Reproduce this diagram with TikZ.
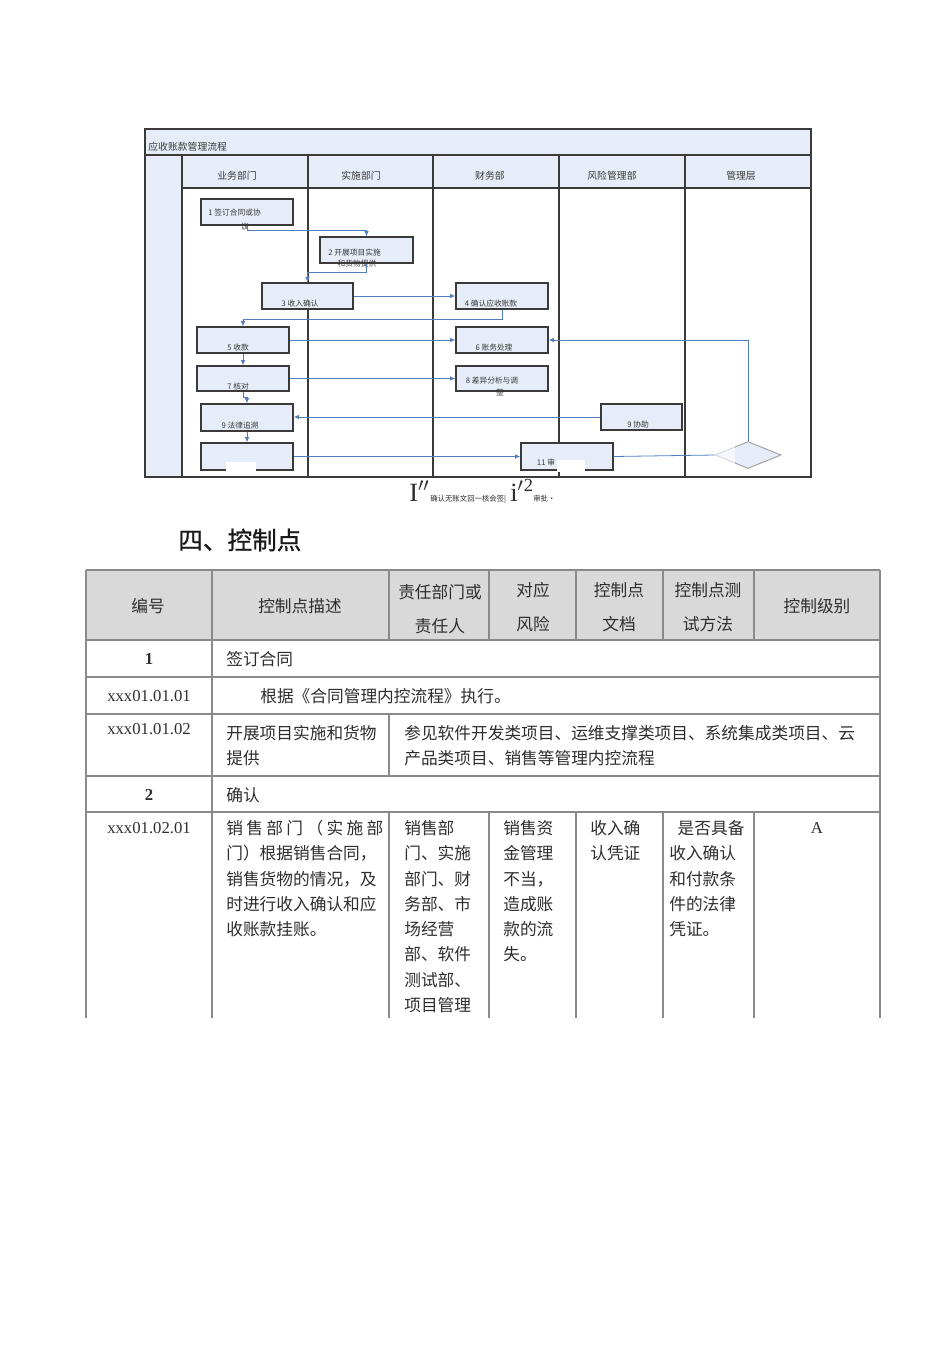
\documentclass[tikz,border=0pt]{standalone}
\usepackage{fontspec}
\setmainfont{Liberation Serif}
\newfontfamily\cjk{Noto Sans CJK SC}
\newfontfamily\cjkhead{Noto Sans CJK SC}[FakeBold=0.8]
\usepackage{xcolor}
\usepackage{tikz}
\usetikzlibrary{shapes.geometric, arrows.meta, positioning, calc}
\newcommand{\pxu}{0.02cm}
\definecolor{laneblue}{HTML}{E6EDF8}
\definecolor{flowblue}{HTML}{4F7FBF}
\definecolor{framegray}{HTML}{3A3A3A}
\definecolor{headgray}{HTML}{D9D9D9}
\definecolor{rulegray}{HTML}{8A8A8A}
\definecolor{inkgray}{HTML}{2E2E2E}
\tikzset{
  frame/.style={draw=framegray, line width=0.8pt},
  charttitle/.style={font=\cjk\fontsize{5.6}{6}\selectfont, text=framegray, inner sep=0pt},
  lanehead/.style={font=\cjk\fontsize{5.6}{6}\selectfont, text=framegray, inner sep=0pt},
  stepbox/.style={rectangle, draw=framegray, fill=laneblue, line width=0.8pt, inner sep=0pt},
  boxtext/.style={font=\cjk\fontsize{4.4}{5.2}\selectfont, text=framegray, inner sep=0pt},
  decisionbox/.style={diamond, aspect=2.4, draw=gray!70, fill=laneblue, line width=0.6pt, inner sep=0pt},
  flowline/.style={-{Latex[length=3pt, width=2.6pt]}, draw=flowblue, line width=0.45pt},
  plainline/.style={draw=flowblue, line width=0.45pt},
  captext/.style={font=\cjk\fontsize{4.2}{5}\selectfont, text=inkgray, anchor=base west, inner sep=0pt},
  capbig/.style={font=\fontsize{15}{15}\selectfont, text=inkgray, anchor=base west, inner sep=0pt},
  headcell/.style={font=\cjk\fontsize{9.5}{19}\selectfont, text=inkgray, align=center, inner sep=0pt},
  cell/.style={font=\cjk\fontsize{9.5}{14.4}\selectfont, text=inkgray, align=left, anchor=north west, inner sep=0pt},
  numcell/.style={font=\fontsize{9.5}{12}\selectfont, text=inkgray, inner sep=0pt},
  gridline/.style={draw=rulegray, line width=0.6pt},
}

\begin{document}
\begin{tikzpicture}[x=0.02cm, y=-0.02cm]
\useasboundingbox[fill=white] (0,0) rectangle (950,1345);

\fill[laneblue] (145,129) rectangle (811,477);
\fill[white] (182,188) rectangle (811,477);
\draw[frame] (145,129) rectangle (811,477);
\draw[frame, line width=1.3pt] (145,155) -- (811,155);
\draw[frame] (182,188) -- (811,188);
\foreach \lx in {182,308,433,559,685} \draw[frame] (\lx,155) -- (\lx,477);

\node[charttitle, anchor=west] (ctitle) at (148,147) {应收账款管理流程};
\node[lanehead] (lane1) at (237,176) {业务部门};
\node[lanehead] (lane2) at (361,176) {实施部门};
\node[lanehead] (lane3) at (490,176) {财务部};
\node[lanehead] (lane4) at (612,176) {风险管理部};
\node[lanehead] (lane5) at (741,176) {管理层};

\node[stepbox, minimum width=92*\pxu, minimum height=26*\pxu] (b1) at (247,212) {};
\node[stepbox, minimum width=93*\pxu, minimum height=26*\pxu] (b2) at (366.5,250) {};
\node[stepbox, minimum width=91*\pxu, minimum height=26*\pxu] (b3) at (307.5,296) {};
\node[stepbox, minimum width=92*\pxu, minimum height=26*\pxu] (b4) at (502,296) {};
\node[stepbox, minimum width=92*\pxu, minimum height=26*\pxu] (b5) at (243,340) {};
\node[stepbox, minimum width=92*\pxu, minimum height=26*\pxu] (b6) at (502,340) {};
\node[stepbox, minimum width=92*\pxu, minimum height=25*\pxu] (b7) at (243,378.5) {};
\node[stepbox, minimum width=92*\pxu, minimum height=25*\pxu] (b8) at (502,378.5) {};
\node[stepbox, minimum width=92*\pxu, minimum height=27*\pxu] (b9) at (247,417.5) {};
\node[stepbox, minimum width=81*\pxu, minimum height=26*\pxu] (h9) at (641.5,417) {};
\node[stepbox, minimum width=92*\pxu, minimum height=27*\pxu] (b10) at (247,456.5) {};
\node[stepbox, minimum width=92*\pxu, minimum height=27*\pxu] (b11) at (567,456.5) {};
\node[decisionbox, minimum width=66*\pxu, minimum height=27*\pxu] (dm) at (748,455) {};
\fill[white] (226,462) rectangle (256,472);
\fill[white] (557,460) rectangle (585,472);
\fill[white, opacity=0.6] (715,444) rectangle (735,468);

\node[boxtext, anchor=west] (t1) at (208,213) {1 签订合同或协};
\node[boxtext] (t1b) at (245,227) {议};
\node[boxtext, anchor=west] (t2) at (328,253) {2 开展项目实施};
\node[boxtext] (t2b) at (357,264) {和货物提供};
\node[boxtext] (t3) at (300,304) {3 收入确认};
\node[boxtext] (t4) at (491,304) {4 确认应收账款};
\node[boxtext] (t5) at (238,348) {5 收款};
\node[boxtext] (t6) at (494,348) {6 账务处理};
\node[boxtext] (t7) at (238,387) {7 核对};
\node[boxtext] (t8) at (492,381) {8 差异分析与调};
\node[boxtext] (t8b) at (500,392) {整};
\node[boxtext] (t9) at (240,426) {9 法律追溯};
\node[boxtext] (t9h) at (638,425) {9 协助};
\node[boxtext] (t11) at (546,463) {11 审};

\draw[flowline] (b1.south) |- ($(b2.north)+(0,-6)$) -- (b2.north);
\draw[flowline] (b2.south) |- ($(b3.north)+(0,-10)$) -- (b3.north);
\draw[flowline] (b3) -- (b4);
\draw[flowline] (b4.south) |- ($(b5.north)+(0,-7)$) -- (b5.north);
\draw[flowline] (b5) -- (b6);
\draw[flowline] (b5) -- (b7);
\draw[flowline] (b7) -- (b8);
\draw[flowline] (b7.south) -- ++(0,6) -| (b9.north);
\draw[flowline] (h9.west) -- (h9.west -| b9.east);
\draw[flowline] (b9) -- (b10);
\draw[flowline] (b10) -- (b11);
\draw[plainline] (b11.east) -- (dm.west);
\draw[flowline] (dm.north) |- (b6.east);

\node[capbig] (cap1) at (409,501) {I$''$};
\node[captext] (cap2) at (430,501) {确认无账文回一核会签|};
\node[capbig] (cap3) at (510,501) {i$'$\textsuperscript{2}};
\node[captext] (cap4) at (533,501) {审批·};

\node[font=\cjkhead\fontsize{14}{16}\selectfont, text=black!90, anchor=west, inner sep=0pt] (sect) at (178,540) {四、控制点};

\fill[headgray] (86,570) rectangle (880,640);
\foreach \ty in {570,640,677,714,776,812} \draw[gridline] (86,\ty) -- (880,\ty);
\foreach \tx in {86,212,880} \draw[gridline] (\tx,570) -- (\tx,1018);
\foreach \tx in {389,489,576,663,754} \draw[gridline] (\tx,570) -- (\tx,640);
\foreach \tx in {389,489,576,663,754} \draw[gridline] (\tx,812) -- (\tx,1018);
\draw[gridline] (389,714) -- (389,776);

\node[headcell] (h1) at (148,606) {编号};
\node[headcell] (h2) at (300,606) {控制点描述};
\node[headcell] (h3) at (440,609) {责任部门或\\责任人};
\node[headcell] (h4) at (533,607) {对应\\风险};
\node[headcell] (h5) at (619,607) {控制点\\文档};
\node[headcell] (h6) at (708,607) {控制点测\\试方法};
\node[headcell] (h7) at (817,606) {控制级别};

\node[numcell, font=\bfseries\fontsize{9.5}{12}\selectfont] (r1a) at (149,659) {1};
\node[cell, anchor=west] (r1b) at (226,659) {签订合同};
\node[numcell] (r2a) at (149,696) {xxx01.01.01};
\node[cell, anchor=west] (r2b) at (260,696) {根据《合同管理内控流程》执行。};
\node[numcell] (r3a) at (149,729) {xxx01.01.02};
\node[cell] (r3b) at (226,725) {开展项目实施和货物\\提供};
\node[cell] (r3c) at (404,725) {参见软件开发类项目、运维支撑类项目、系统集成类项目、云\\产品类项目、销售等管理内控流程};
\node[numcell, font=\bfseries\fontsize{9.5}{12}\selectfont] (r4a) at (149,795) {2};
\node[cell, anchor=west] (r4b) at (226,795) {确认};
\node[numcell] (r5a) at (149,828) {xxx01.02.01};
\node[cell] (r5b) at (226,820) {\makebox[3.14cm][s]{销\hfill 售\hfill 部\hfill 门\hfill （\hfill 实\hfill 施\hfill 部}\\门）根据销售合同，\\销售货物的情况，及\\时进行收入确认和应\\收账款挂账。};
\node[cell] (r5c) at (404,820) {销售部\\门、实施\\部门、财\\务部、市\\场经营\\部、软件\\测试部、\\项目管理};
\node[cell] (r5d) at (503,820) {销售资\\金管理\\不当，\\造成账\\款的流\\失。};
\node[cell] (r5e) at (590,820) {收入确\\认凭证};
\node[cell] (r5f) at (669,820) {\hspace{0.5em}是否具备\\收入确认\\和付款条\\件的法律\\凭证。};
\node[numcell, font=\fontsize{9.5}{12}\selectfont] (r5g) at (817,828) {A};
\end{tikzpicture}
\end{document}
